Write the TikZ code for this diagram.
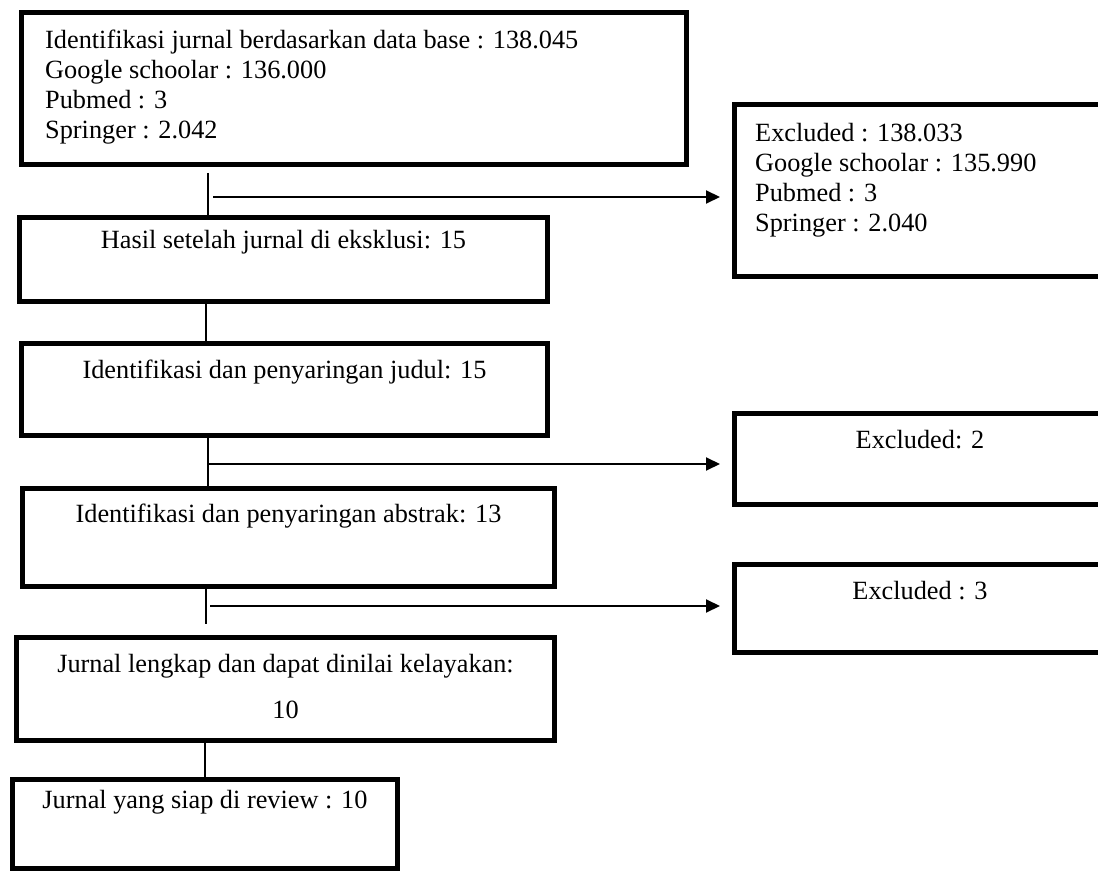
\documentclass[tikz,border=0pt]{standalone}
\usepackage{fontspec}
\setmainfont{Liberation Serif}
\usetikzlibrary{arrows.meta}
\begin{document}
\begin{tikzpicture}[x=1pt,y=-1pt,
  box/.style={draw, line width=5pt, inner sep=0pt, outer sep=0pt, anchor=north west},
  txt/.style={inner sep=0pt, font=\fontsize{26.3}{30}\selectfont},
  conn/.style={line width=2pt},
  arr/.style={line width=2pt, -{Triangle[length=14pt,width=13pt]}, shorten >=14.5pt}]
\useasboundingbox (0,0) rectangle (1098,874);
\begin{scope}
\clip (0,0) rectangle (1098,874);
% boxes
\node[box, minimum width=665, minimum height=152] (b1) at (21.5,12.5) {};
\node[box, minimum width=528, minimum height=84]  (b2) at (19.5,217.5) {};
\node[box, minimum width=526, minimum height=92]  (b3) at (21.5,343.5) {};
\node[box, minimum width=532, minimum height=98]  (b4) at (22.5,488.5) {};
\node[box, minimum width=538, minimum height=103] (b5) at (16.5,637.5) {};
\node[box, minimum width=385, minimum height=89]  (b6) at (12.5,779.5) {};
\node[box, minimum width=371, minimum height=172] (bA) at (734.5,104.5) {};
\node[box, minimum width=371, minimum height=91]  (bB) at (734.5,413.5) {};
\node[box, minimum width=371, minimum height=88]  (bC) at (734.5,564.5) {};
% texts
\node[txt, anchor=north west, align=left] (t1) at (45,30) {Identifikasi jurnal berdasarkan data base : 138.045\\Google schoolar : 136.000\\Pubmed : 3\\Springer : 2.042};
\node[txt, anchor=north west, align=left] (tA) at (755,123) {Excluded : 138.033\\Google schoolar : 135.990\\Pubmed : 3\\Springer : 2.040};
\node[txt, anchor=base] (t2) at (283.5,249) {Hasil setelah jurnal di eksklusi: 15};
\node[txt, anchor=base] (t3) at (284.5,379) {Identifikasi dan penyaringan judul: 15};
\node[txt, anchor=base] (t4) at (288.5,522) {Identifikasi dan penyaringan abstrak: 13};
\node[txt, anchor=base] (t5a) at (285.5,672) {Jurnal lengkap dan dapat dinilai kelayakan:};
\node[txt, anchor=base] (t5b) at (285.5,718) {10};
\node[txt, anchor=base] (t6) at (205,808) {Jurnal yang siap di review : 10};
\node[txt, anchor=base] (tB) at (920,449) {Excluded: 2};
\node[txt, anchor=base] (tC) at (920,599) {Excluded : 3};
% connectors
\coordinate (v1s) at (208,173);
\draw[conn] (v1s) -- (v1s |- b2.north);
\coordinate (a1s) at (213,197);
\draw[arr] (a1s) -- (a1s -| bA.west);
\coordinate (v2) at (206,0);
\draw[conn] (v2 |- b2.south) -- (v2 |- b3.north);
\coordinate (v3) at (208,0);
\draw[conn] (v3 |- b3.south) -- (v3 |- b4.north);
\coordinate (a2s) at (208,464);
\draw[arr] (a2s) -- (a2s -| bB.west);
\coordinate (v4e) at (206,624);
\draw[conn] (v4e |- b4.south) -- (v4e);
\coordinate (a3s) at (210,606);
\draw[arr] (a3s) -- (a3s -| bC.west);
\coordinate (v5) at (205,0);
\draw[conn] (v5 |- b5.south) -- (v5 |- b6.north);
\end{scope}
\end{tikzpicture}
\end{document}
